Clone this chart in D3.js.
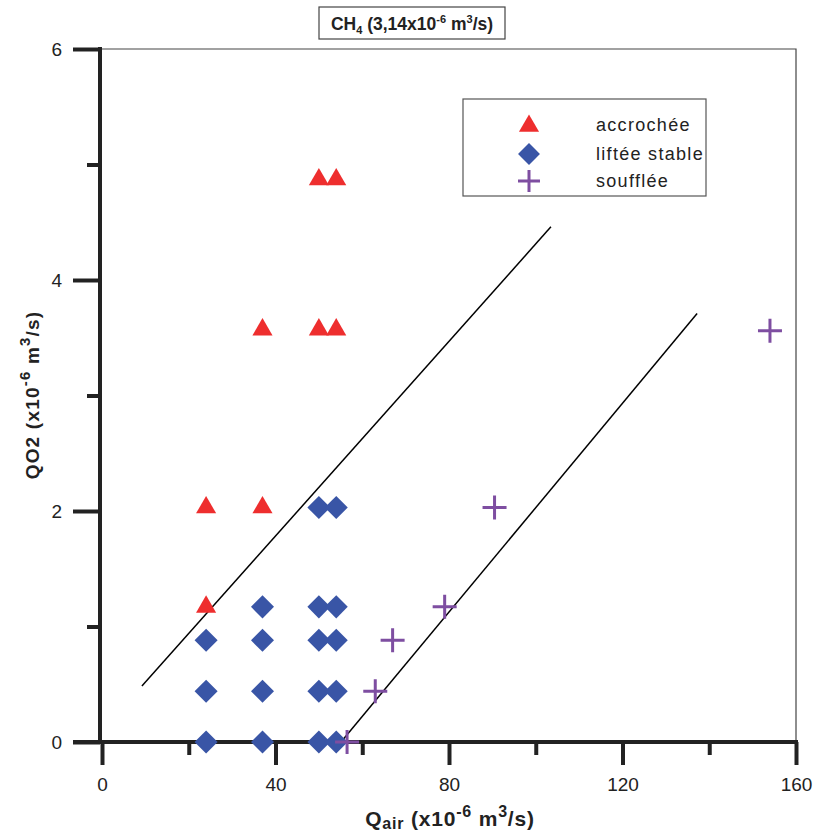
<!DOCTYPE html>
<html><head><meta charset="utf-8">
<script src="https://cdn.jsdelivr.net/npm/d3@7"></script>
<style>body{margin:0;background:#fff}svg{display:block}</style>
</head><body>
<svg id="c" width="816" height="836"></svg>
<script>
// ---- data ----
const accrochee = [[24,1.17],[24,2.03],[37,2.03],[37,3.57],[50,3.57],[54,3.57],[50,4.87],[54,4.87]];
const lifteeStable = [[24,0],[24,0.44],[24,0.88],[37,0],[37,0.44],[37,0.88],[37,1.17],
  [50,0],[50,0.44],[50,0.88],[50,1.17],[50,2.03],[54,0],[54,0.44],[54,0.88],[54,1.17],[54,2.03]];
const soufflee = [[56.5,0],[63,0.44],[67,0.88],[79,1.17],[90.5,2.03],[154,3.56]];
const line1 = [[9.2,0.485],[103.5,4.46]];
const line2 = [[55.1,0],[137.2,3.71]];
const xMajor = [0,40,80,120,160];
const xMinor = [20,60,100,140];
const yMajor = [0,2,4,6];
const yMinor = [1,3,5];
const legendLabels = ["accrochée","liftée stable","soufflée"];

const RED="#ee2e2e", BLUE="#3955a6", PURPLE="#7e4ea1", AX="#222";
const FONT="'Liberation Sans', Arial, sans-serif";

const svg = d3.select("#c");
const x = d3.scaleLinear().domain([0,160]).range([102,796]);
const y = d3.scaleLinear().domain([0,6]).range([742,49]);

// frame (thin top/right)
svg.append("path").attr("d",`M${x(0)},${y(6)}H${x(160)}V${y(0)}`)
  .attr("fill","none").attr("stroke","#444").attr("stroke-width",1.2);

// fit lines
const lg = d3.line().x(d=>x(d[0])).y(d=>y(d[1]));
[line1,line2].forEach(l=>svg.append("path").attr("d",lg(l)).attr("fill","none")
  .attr("stroke","#000").attr("stroke-width",1.5));

// axes
const xAxisG = svg.append("g").attr("transform",`translate(0,${y(0)})`)
  .call(d3.axisBottom(x).tickValues(xMajor).tickSize(23).tickPadding(13).tickFormat(d3.format("d")));
const xMinG = svg.append("g").attr("transform",`translate(0,${y(0)})`)
  .call(d3.axisBottom(x).tickValues(xMinor).tickSize(13).tickFormat(""));
const yAxisG = svg.append("g").attr("transform",`translate(100,0)`)
  .call(d3.axisLeft(y).tickValues(yMajor).tickSize(27).tickPadding(11).tickFormat(d3.format("d")));
const yMinG = svg.append("g").attr("transform",`translate(100,0)`)
  .call(d3.axisLeft(y).tickValues(yMinor).tickSize(13).tickFormat(""));
[xAxisG,xMinG,yAxisG,yMinG].forEach(g=>{
  g.select(".domain").remove();
  g.selectAll("line").attr("stroke",AX).attr("stroke-width",4);
  g.selectAll("text").attr("font-family",FONT).attr("font-size",19).attr("fill","#222");
});
svg.append("line").attr("x1",73).attr("x2",x(160)+2).attr("y1",y(0)).attr("y2",y(0))
  .attr("stroke",AX).attr("stroke-width",4);
svg.append("line").attr("x1",100).attr("x2",100).attr("y1",y(6)-2).attr("y2",y(0)+2)
  .attr("stroke",AX).attr("stroke-width",4);

// markers
const tri = d3.symbol().type(d3.symbolTriangle).size(175);
const sq = d3.symbol().type(d3.symbolSquare).size(265);
const crossPath = (s)=>`M${-s},0H${s}M0,${-s}V${s}`;

function drawTri(g, px, py){ g.append("path").attr("d",tri()).attr("transform",`translate(${px},${py})`).attr("fill",RED); }
function drawDia(g, px, py){ g.append("path").attr("d",sq()).attr("transform",`translate(${px},${py}) rotate(45)`).attr("fill",BLUE); }
function drawCross(g, px, py, s){ g.append("path").attr("d",crossPath(s)).attr("transform",`translate(${px},${py})`)
  .attr("stroke",PURPLE).attr("stroke-width",3).attr("fill","none"); }

const mk = svg.append("g");
lifteeStable.forEach(d=>drawDia(mk,x(d[0]),y(d[1])));
accrochee.forEach(d=>drawTri(mk,x(d[0]),y(d[1])));
soufflee.forEach(d=>drawCross(mk,x(d[0]),y(d[1]),12));

// legend
const lgd = svg.append("g");
lgd.append("rect").attr("x",463).attr("y",99).attr("width",243).attr("height",97)
  .attr("fill","#fff").attr("stroke","#555").attr("stroke-width",1.2);
const ly = [125,154,181];
drawTri(lgd,529,ly[0]+1);
lgd.append("path").attr("d",d3.symbol().type(d3.symbolSquare).size(240)()).attr("transform",`translate(529,${ly[1]}) rotate(45)`).attr("fill",BLUE);
drawCross(lgd,529,ly[2],11);
legendLabels.forEach((t,i)=>lgd.append("text").attr("x",596).attr("y",ly[i]+6)
  .attr("font-family",FONT).attr("font-size",18).attr("letter-spacing",1.3).attr("fill","#222").text(t));

// title box
svg.append("rect").attr("x",319).attr("y",7).attr("width",186).attr("height",32)
  .attr("fill","#fff").attr("stroke","#444").attr("stroke-width",1.2);
const tt = svg.append("text").attr("x",412).attr("y",30).attr("text-anchor","middle")
  .attr("font-family",FONT).attr("font-size",17.5).attr("font-weight","bold").attr("fill","#222");
tt.append("tspan").text("CH");
tt.append("tspan").attr("font-size",11).attr("dy",4).text("4");
tt.append("tspan").attr("dy",-4).text(" (3,14x10");
tt.append("tspan").attr("font-size",11).attr("dy",-7).text("-6");
tt.append("tspan").attr("dy",7).text(" m");
tt.append("tspan").attr("font-size",11).attr("dy",-7).text("3");
tt.append("tspan").attr("dy",7).text("/s)");

// x axis title
const xt = svg.append("text").attr("x",450).attr("y",826).attr("text-anchor","middle")
  .attr("font-family",FONT).attr("font-size",21).attr("font-weight","bold").attr("letter-spacing",0.8).attr("fill","#222");
xt.append("tspan").text("Q");
xt.append("tspan").attr("font-size",16).attr("dy",3).text("air");
xt.append("tspan").attr("dy",-3).text(" (x10");
xt.append("tspan").attr("font-size",16).attr("dy",-9).text("-6");
xt.append("tspan").attr("dy",9).text(" m");
xt.append("tspan").attr("font-size",16).attr("dy",-9).text("3");
xt.append("tspan").attr("dy",9).text("/s)");

// y axis title
const yt = svg.append("text").attr("transform","translate(39,395) rotate(-90)").attr("text-anchor","middle")
  .attr("font-family",FONT).attr("font-size",19).attr("font-weight","bold").attr("letter-spacing",1.2).attr("fill","#222");
yt.append("tspan").text("QO2 (x10");
yt.append("tspan").attr("font-size",15).attr("dy",-9).text("-6");
yt.append("tspan").attr("dy",9).text(" m");
yt.append("tspan").attr("font-size",15).attr("dy",-9).text("3");
yt.append("tspan").attr("dy",9).text("/s)");
</script>
</body></html>
